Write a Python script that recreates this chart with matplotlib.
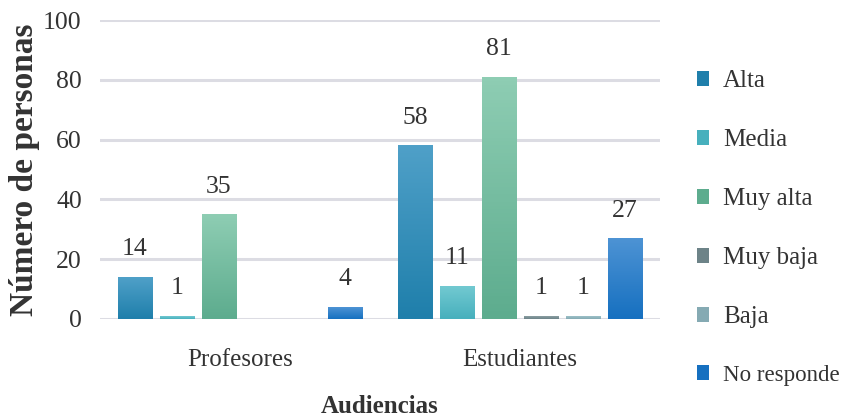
import matplotlib.pyplot as plt
import numpy as np
from matplotlib.colors import LinearSegmentedColormap
from matplotlib.patches import Patch

# Data
audiences = ['Profesores', 'Estudiantes']
series = ['Alta', 'Media', 'Muy alta', 'Muy baja', 'Baja', 'No responde']
alta = [14, 58]
media = [1, 11]
muy_alta = [35, 81]
muy_baja = [0, 1]
baja = [0, 1]
no_responde = [4, 27]
values = [alta, media, muy_alta, muy_baja, baja, no_responde]

# (top, bottom) colours for the gradient fill
colors = [('#4fa0c8', '#1f7fab'),
          ('#72c9d1', '#47b0bd'),
          ('#8ecdb3', '#5dac8e'),
          ('#8a9ea2', '#6d8388'),
          ('#9cc0c8', '#85aab3'),
          ('#4d93d4', '#1670c0')]

plt.rcParams['font.family'] = ['Liberation Serif', 'DejaVu Serif']

fig = plt.figure(figsize=(8.46, 4.19), dpi=100)
ax = fig.add_axes([0.118, 0.239, 0.662, 0.713])

x = np.arange(len(audiences))
slot = 0.15
width = 0.122

for i, (name, vals) in enumerate(zip(series, values)):
    pos = x + (i - 2.5) * slot
    bars = ax.bar(pos, vals, width, color=colors[i][1], zorder=3)
    cmap = LinearSegmentedColormap.from_list(name, [colors[i][1], colors[i][0]])
    grad = np.linspace(0, 1, 64).reshape(-1, 1)
    for b, v in zip(bars, vals):
        if v <= 0:
            continue
        ax.imshow(grad, cmap=cmap, origin='lower', aspect='auto', zorder=4,
                  extent=[b.get_x(), b.get_x() + b.get_width(), 0, v])
        ax.annotate(str(v), (b.get_x() + b.get_width() / 2, v),
                    xytext=(0, 12), textcoords='offset points',
                    ha='center', va='bottom', fontsize=18.5, color='#333333')

ax.set_xlim(-0.5, 1.5)
ax.set_ylim(0, 100)
ax.set_yticks(np.arange(0, 101, 20))
ax.set_xticks(x)
ax.set_xticklabels(audiences)
ax.tick_params(axis='y', length=0, pad=13, labelsize=18.5, labelcolor='#333333')
ax.tick_params(axis='x', length=0, pad=22, labelsize=18, labelcolor='#333333')
ax.grid(axis='y', color='#dcdce3', linewidth=2.2, zorder=0)
ax.set_axisbelow(True)
for s in ax.spines.values():
    s.set_visible(False)

ax.set_ylabel('Número de personas', fontsize=24, fontweight='bold',
              color='#333333', labelpad=2)
ax.set_xlabel('Audiencias', fontsize=18, fontweight='bold',
              color='#333333', labelpad=17)

handles = [Patch(facecolor=c[1], edgecolor='none') for c in colors]
leg = fig.legend(handles, series, loc='center left', bbox_to_anchor=(0.797, 0.455),
                 frameon=False, fontsize=18, handlelength=0.5, handleheight=0.5,
                 handletextpad=0.55, labelspacing=1.48, labelcolor='#333333')
# the last entry is squeezed in the original
leg.get_texts()[-1].set_fontsize(16.5)

fig.savefig('out.png', dpi=100)
